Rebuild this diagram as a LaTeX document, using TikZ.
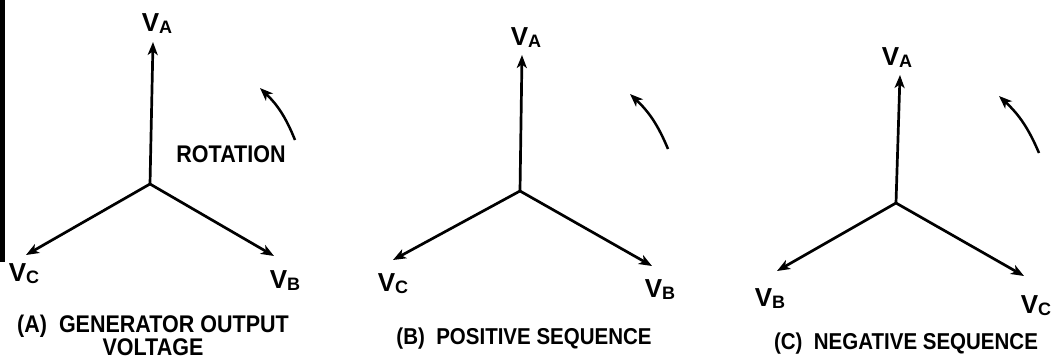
\documentclass[tikz,border=0pt]{standalone}
\usepackage{graphicx}
\usepackage{fontspec}
\setmainfont{Liberation Sans}
\usetikzlibrary{arrows.meta}
\tikzset{
  phasor/.style={line width=2.7pt, -{Stealth[length=13pt,width=10pt,inset=3.5pt]}},
  rotarrow/.style={line width=2.5pt, -{Stealth[length=13pt,width=10pt,inset=3.5pt]}},
  vlbl/.style={inner sep=0pt, anchor=center, font=\bfseries},
  captxt/.style={inner sep=0pt, anchor=center, font=\bfseries\fontsize{20.5}{18}\selectfont},
  captbold/.style={inner sep=0pt, anchor=center, font=\bfseries\fontsize{21.5}{18}\selectfont},
}
\newcommand{\vsub}[1]{{\fontsize{26}{26}\selectfont V}\raisebox{-2pt}{\fontsize{18}{18}\selectfont #1}}
\newcommand{\tall}[1]{\scalebox{1}[1.12]{#1}}
\begin{document}
\begin{tikzpicture}[x=1pt,y=-1pt]
\useasboundingbox (0,0) rectangle (1055,361);
% left bar
\fill[black] (0,0) rectangle (5,262);
% ---------- Panel A ----------
\coordinate (oA) at (150,184);
\coordinate (aA) at (153,42);
\coordinate (bA) at (274,256);
\coordinate (cA) at (26,255);
\draw[phasor] (oA) -- (aA);
\draw[phasor] (oA) -- (bA);
\draw[phasor] (oA) -- (cA);
\node[vlbl] (lAa) at (157,24) {\vsub{A}};
\node[vlbl] (lAc) at (24,274) {\vsub{C}};
\node[vlbl] (lAb) at (285,281) {\vsub{B}};
\coordinate (rA1) at (295,140);
\coordinate (rA2) at (260,88);
\draw[rotarrow] (rA1) to[bend right=12] (rA2);
\node[captbold] (rotA) at (231,154) {\tall{ROTATION}};
\node[captbold, align=center] (capA) at (153,335)
  {\tall{(A)\ \ GENERATOR OUTPUT}\\\tall{VOLTAGE}};
% ---------- Panel B ----------
\coordinate (oB) at (520,191);
\coordinate (aB) at (522,55);
\coordinate (bB) at (652,266);
\coordinate (cB) at (393,260);
\draw[phasor] (oB) -- (aB);
\draw[phasor] (oB) -- (bB);
\draw[phasor] (oB) -- (cB);
\node[vlbl] (lBa) at (526,38) {\vsub{A}};
\node[vlbl] (lBc) at (393,284) {\vsub{C}};
\node[vlbl] (lBb) at (660,290) {\vsub{B}};
\coordinate (rB1) at (668,149);
\coordinate (rB2) at (630,94);
\draw[rotarrow] (rB1) to[bend right=12] (rB2);
\node[captxt] (capB) at (524,339) {\tall{(B)\ \ POSITIVE SEQUENCE}};
% ---------- Panel C ----------
\coordinate (oC) at (896,203);
\coordinate (aC) at (900,75);
\coordinate (bC) at (777,271);
\coordinate (cC) at (1024,276);
\draw[phasor] (oC) -- (aC);
\draw[phasor] (oC) -- (bC);
\draw[phasor] (oC) -- (cC);
\node[vlbl] (lCa) at (897,58) {\vsub{A}};
\node[vlbl] (lCb) at (770,299) {\vsub{B}};
\node[vlbl] (lCc) at (1036,306) {\vsub{C}};
\coordinate (rC1) at (1039,153);
\coordinate (rC2) at (999,96);
\draw[rotarrow] (rC1) to[bend right=12] (rC2);
\node[captxt] (capC) at (906,344) {\tall{(C)\ \ NEGATIVE SEQUENCE}};
\end{tikzpicture}
\end{document}
